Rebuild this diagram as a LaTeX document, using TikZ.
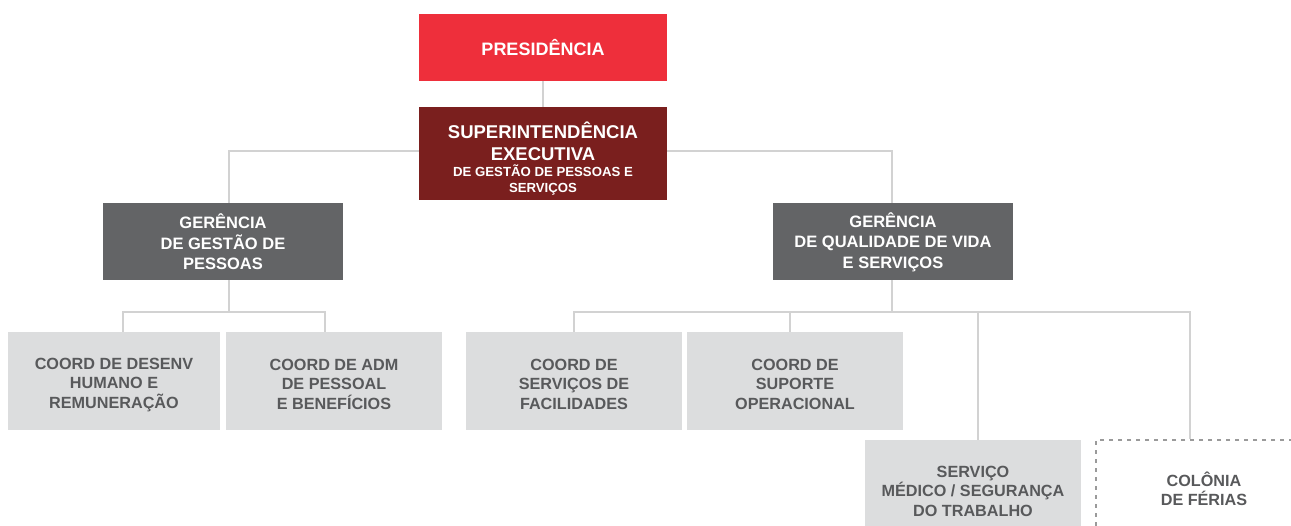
\documentclass[tikz,border=0pt]{standalone}
\usepackage{fontspec}
\setmainfont{Liberation Sans}
\definecolor{pres}{HTML}{EE2F3B}
\definecolor{supc}{HTML}{7A1F1E}
\definecolor{gerc}{HTML}{636466}
\definecolor{coordc}{HTML}{DCDDDE}
\definecolor{coordt}{HTML}{58595B}
\definecolor{linec}{HTML}{D2D2D2}
\definecolor{dashc}{HTML}{9A9A9A}
\newcommand\tstrut[1]{\rule{0pt}{#1pt}}
\tikzset{
  box/.style={inner sep=0pt, align=center, font=\bfseries},
  presbox/.style={box, fill=pres, text=white, minimum width=248pt, minimum height=67pt, font=\bfseries\fontsize{18}{21}\selectfont},
  supbox/.style={box, fill=supc, text=white, minimum width=248pt, minimum height=93pt, font=\bfseries\fontsize{13.2}{16}\selectfont},
  gerbox/.style={box, fill=gerc, text=white, minimum width=240pt, minimum height=77pt, font=\bfseries\fontsize{16.5}{20.5}\selectfont},
  coordbox/.style={box, fill=coordc, text=coordt, minimum width=216pt, minimum height=98pt, font=\bfseries\fontsize{16.2}{19.2}\selectfont},
  colbox/.style={box, draw=dashc, line width=2pt, dash pattern=on 4pt off 5pt, text=coordt, minimum width=216pt, minimum height=98pt, font=\bfseries\fontsize{16.2}{19.2}\selectfont},
  conn/.style={draw=linec, line width=2pt},
}
\begin{document}
\begin{tikzpicture}[x=1pt,y=-1pt]
\useasboundingbox (0,0) rectangle (1291,525);
\clip (0,0) rectangle (1291,525);
% nodes
\node[presbox] (pres) at (543,47.5) {PRESIDÊNCIA};
\node[supbox] (sup) at (543,153.5) {{\fontsize{18.5}{22}\selectfont\tstrut{26}SUPERINTENDÊNCIA}\\[6pt]{\fontsize{18.5}{22}\selectfont EXECUTIVA}\\DE GESTÃO DE PESSOAS E\\SERVIÇOS};
\node[gerbox] (gl) at (223,241.5) {\tstrut{16}GERÊNCIA\\DE GESTÃO DE\\PESSOAS};
\node[gerbox] (gr) at (893,241.5) {\tstrut{16}GERÊNCIA\\DE QUALIDADE DE VIDA\\E SERVIÇOS};
\node[coordbox, minimum width=212pt] (c1) at (114,381) {\tstrut{19}COORD DE DESENV\\HUMANO E\\REMUNERAÇÃO};
\node[coordbox] (c2) at (334,381) {\tstrut{18}COORD DE ADM\\DE PESSOAL\\E BENEFÍCIOS};
\node[coordbox] (c3) at (574,381) {\tstrut{18}COORD DE\\SERVIÇOS DE\\FACILIDADES};
\node[coordbox] (c4) at (795,381) {\tstrut{18}COORD DE\\SUPORTE\\OPERACIONAL};
\node[coordbox] (s1) at (973,489) {\tstrut{16}SERVIÇO\\MÉDICO / SEGURANÇA\\DO TRABALHO};
\node[colbox] (s2) at (1204,489) {COLÔNIA\\DE FÉRIAS};
% connectors
\draw[conn] (pres.south) -- (sup.north);
\draw[conn] ([yshift=2.5pt]sup.west) -| ([xshift=6pt]gl.north);
\draw[conn] ([yshift=2.5pt]sup.east) -| ([xshift=-1pt]gr.north);
\draw[conn] ([xshift=6pt]gl.south) -- ++(0,32) coordinate (jl);
\draw[conn] ([xshift=9pt]c1.north) |- (jl) -| ([xshift=-9pt]c2.north);
\draw[conn] ([xshift=-1pt]gr.south) -- ++(0,32) coordinate (jr);
\draw[conn] (c3.north) |- (jr) -| ([xshift=-5pt]c4.north);
\draw[conn] (jr) -| ([xshift=5pt]s1.north);
\draw[conn] (jr) -| ([xshift=-14pt]s2.north);
\end{tikzpicture}
\end{document}
